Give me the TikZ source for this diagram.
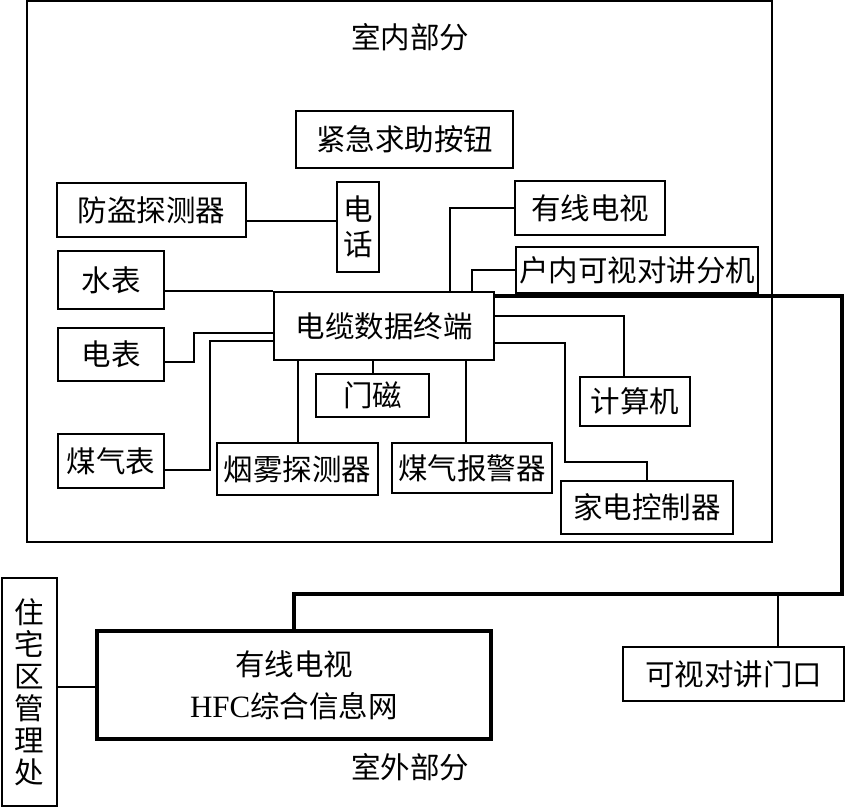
\documentclass[tikz,border=0pt]{standalone}
\usepackage{fontspec}
\setmainfont{Noto Sans CJK SC}
\newfontfamily\latin{Liberation Serif}
\begin{document}
\begin{tikzpicture}[x=1pt,y=-1pt,
  bx/.style={draw, line width=2pt, inner sep=0pt, font=\fontsize{29.5}{35}\selectfont},
  conn/.style={line width=2pt},
  trunk/.style={line width=4.5pt},
  lbl/.style={inner sep=0pt, font=\fontsize{29.5}{35}\selectfont}]
\useasboundingbox (0,0) rectangle (845,807);
% indoor frame
\draw[line width=2.5pt] (27,1) rectangle (772,542);
\node[lbl] (indoor) at (410,37) {室内部分};
\node[lbl] (outdoor) at (410,767) {室外部分};
% boxes
\node[bx, minimum width=217pt, minimum height=57pt] (jinji) at (404.5,139.5) {紧急求助按钮};
\node[bx, minimum width=189pt, minimum height=54pt] (fangdao) at (151.5,210) {防盗探测器};
\node[bx, minimum width=42pt, minimum height=90pt, align=center] (dianhua) at (358,227) {电\\话};
\node[bx, minimum width=150pt, minimum height=54pt] (youxian) at (590,208) {有线电视};
\node[bx, minimum width=242pt, minimum height=46pt] (hunei) at (637,270) {户内可视对讲分机};
\node[bx, minimum width=106pt, minimum height=58pt] (shuibiao) at (111,280) {水表};
\node[bx, minimum width=220pt, minimum height=68pt] (terminal) at (384,326) {电缆数据终端};
\node[bx, minimum width=106pt, minimum height=53pt] (dianbiao) at (111,354.5) {电表};
\node[bx, minimum width=106pt, minimum height=54pt] (meiqibiao) at (111,461) {煤气表};
\node[bx, minimum width=113pt, minimum height=43pt] (menci) at (372.5,395.5) {门磁};
\node[bx, minimum width=161pt, minimum height=52pt] (yanwu) at (297.5,469) {烟雾探测器};
\node[bx, minimum width=160pt, minimum height=50pt] (baojing) at (472,468) {煤气报警器};
\node[bx, minimum width=110pt, minimum height=49pt] (jisuanji) at (635,401.5) {计算机};
\node[bx, minimum width=172pt, minimum height=53pt] (jiadian) at (647,507.5) {家电控制器};
\node[bx, minimum width=55pt, minimum height=228pt, align=center, font=\fontsize{29.5}{32}\selectfont] (zhuzhai) at (29.5,692) {住\\宅\\区\\管\\理\\处};
\node[bx, line width=4pt, minimum width=394pt, minimum height=108pt, align=center] (hfc) at (294,685) {有线电视\\[7pt]{\latin\fontsize{31}{35}\selectfont HFC}综合信息网};
\node[bx, minimum width=221pt, minimum height=54pt] (menkou) at (733.5,674) {可视对讲门口};
% helper points on node borders
\coordinate (fdE) at ([yshift=-11pt]fangdao.east);
\coordinate (bjN) at ([xshift=-6pt]baojing.north);
\coordinate (zzE) at ([yshift=5pt]zhuzhai.east);
\coordinate (mkN) at ([xshift=44pt]menkou.north);
% connectors
\draw[conn] (fdE) -- (dianhua.west |- fdE);
\draw[conn] (shuibiao.east |- terminal.north west) -- (terminal.north west);
\draw[conn] (youxian.west) -| ([xshift=66pt]terminal.north);
\draw[conn] (hunei.west) -| ([xshift=88pt]terminal.north);
\draw[conn] ([yshift=-7.5pt]dianbiao.east) -- ++(29,0) |- ([yshift=-7pt]terminal.west);
\draw[conn] ([yshift=-9pt]meiqibiao.east) -- ++(45,0) |- ([yshift=-15pt]terminal.west);
\draw[conn] (menci.north) -- (menci.north |- terminal.south);
\draw[conn] (yanwu.north) -- (yanwu.north |- terminal.south);
\draw[conn] (bjN) -- (bjN |- terminal.south);
\draw[conn] ([yshift=10pt]terminal.east) -| ([xshift=-11pt]jisuanji.north);
\draw[conn] ([yshift=-17pt]terminal.east) -- ++(70,0) -- ++(0,119) -| (jiadian.north);
\draw[conn] (zzE) -- (hfc.west |- zzE);
% trunk
\coordinate (c2) at (842,594);
\draw[trunk] ([yshift=-5pt]terminal.north east) -| (c2) -| (hfc.north);
\draw[conn] (mkN) -- (mkN |- c2);
\end{tikzpicture}
\end{document}
